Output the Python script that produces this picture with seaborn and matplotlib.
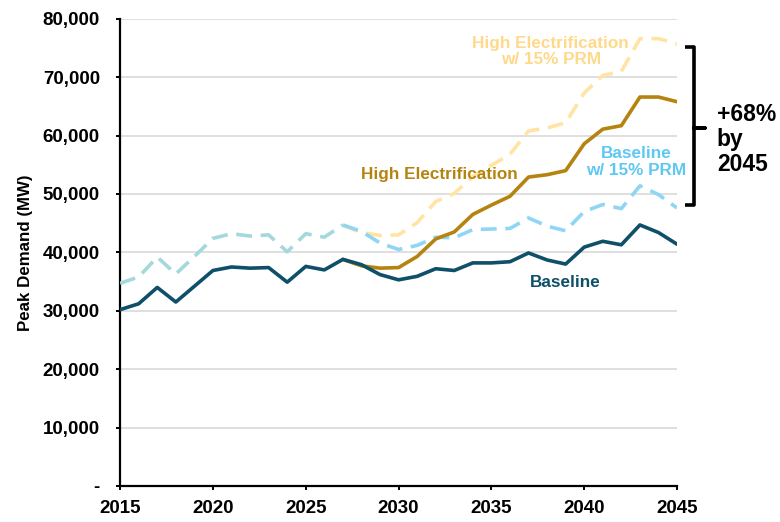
import matplotlib
matplotlib.use("Agg")
import matplotlib.pyplot as plt
import seaborn as sns
import pandas as pd
import numpy as np

# ---------------- data (thousand MW) ----------------
years = list(range(2015, 2046))
baseline = [30.2, 31.2, 34.0, 31.5, 34.2, 36.9, 37.5, 37.3, 37.4, 34.9, 37.6, 37.0, 38.8, 37.9, 36.2, 35.3,
            35.9, 37.2, 36.9, 38.2, 38.2, 38.4, 39.9, 38.7, 38.0, 40.9, 41.9, 41.3, 44.7, 43.4, 41.4]
baseline_prm = [34.7, 35.8, 39.2, 36.3, 39.3, 42.4, 43.2, 42.8, 43.0, 40.1, 43.2, 42.6, 44.7, 43.6, 41.6, 40.5,
                41.2, 42.6, 42.5, 43.9, 44.0, 44.1, 45.9, 44.5, 43.7, 47.0, 48.2, 47.5, 51.4, 49.9, 47.6]
he_years = list(range(2027, 2046))
high_elec = [38.8, 37.7, 37.3, 37.4, 39.3, 42.3, 43.5, 46.5, 48.1, 49.6, 52.9, 53.3, 54.0, 58.6, 61.1, 61.7,
             66.6, 66.6, 65.8]
high_elec_prm = [44.6, 43.4, 42.9, 43.0, 45.1, 48.7, 50.1, 53.0, 54.9, 56.8, 60.8, 61.3, 62.2, 67.3, 70.3,
                 71.0, 76.6, 76.6, 75.7]
forecast_start = 2027
y_ticks = [0, 10000, 20000, 30000, 40000, 50000, 60000, 70000, 80000]
x_ticks = [2015, 2020, 2025, 2030, 2035, 2040, 2045]

df = pd.DataFrame({"year": years, "baseline": np.array(baseline) * 1000,
                   "baseline_prm": np.array(baseline_prm) * 1000})
he = pd.DataFrame({"year": he_years, "he": np.array(high_elec) * 1000,
                   "he_prm": np.array(high_elec_prm) * 1000})
hist = df[df.year <= forecast_start]
fut = df[df.year >= forecast_start]

# ---------------- style ----------------
sns.set_theme(style="white")
plt.rcParams["font.family"] = ["Liberation Sans", "DejaVu Sans"]
plt.rcParams["font.weight"] = "bold"

C_BASE = "#0e4f69"
C_HIST_DASH = "#a3d9dc"
C_BASE_PRM = "#8fd6f5"
C_BASE_PRM_TXT = "#5ec8f2"
C_HE = "#b58410"
C_HE_PRM = "#ffe4a3"
C_HE_PRM_TXT = "#ffd98a"

fig = plt.figure(figsize=(7.8, 5.22), dpi=100)
ax = fig.add_axes([0.154, 0.069, 0.714, 0.895])

lw = 2.6
dash = (0, (4.4, 2.4))
sns.lineplot(data=he, x="year", y="he_prm", ax=ax, color=C_HE_PRM, linewidth=lw, linestyle=dash,
             estimator=None, zorder=3)
sns.lineplot(data=fut, x="year", y="baseline_prm", ax=ax, color=C_BASE_PRM, linewidth=lw, linestyle=dash,
             estimator=None, zorder=4)
sns.lineplot(data=hist, x="year", y="baseline_prm", ax=ax, color=C_HIST_DASH, linewidth=lw, linestyle=dash,
             estimator=None, zorder=4)
sns.lineplot(data=he, x="year", y="he", ax=ax, color=C_HE, linewidth=lw, estimator=None, zorder=5)
sns.lineplot(data=df, x="year", y="baseline", ax=ax, color=C_BASE, linewidth=lw, estimator=None, zorder=6)

ax.set_xlim(2015, 2045)
ax.set_ylim(0, 80000)
ax.set_yticks(y_ticks)
ax.set_yticklabels(["-" if v == 0 else f"{v:,}" for v in y_ticks])
ax.set_xticks(x_ticks)
ax.set_xticklabels([str(v) for v in x_ticks])
ax.tick_params(axis="both", direction="out", length=3, width=1.4, color="black",
               labelsize=13.5, labelcolor="black")
ax.tick_params(axis="y", left=True, pad=11.5)
ax.tick_params(axis="x", bottom=True, pad=7)
for lab in ax.get_xticklabels() + ax.get_yticklabels():
    lab.set_fontweight("bold")
ax.set_xlabel("")
ax.set_ylabel("Peak Demand (MW)", fontsize=12.2, fontweight="bold", color="black", labelpad=7)

ax.yaxis.grid(True, color="#d9d9d9", linewidth=1.2)
ax.set_axisbelow(True)
sns.despine(ax=ax)
for s in ["left", "bottom"]:
    ax.spines[s].set_color("black")
    ax.spines[s].set_linewidth(1.6)
    ax.spines[s].set_zorder(2)

# ---------------- annotations ----------------
ax.text(2038.2, 74400, "High Electrification\nw/ 15% PRM", color=C_HE_PRM_TXT, fontsize=12.3,
        fontweight="bold", ha="center", va="center", linespacing=1.15)
ax.text(2032.2, 53300, "High Electrification", color=C_HE, fontsize=12.3, fontweight="bold",
        ha="center", va="center")
ax.text(2042.8, 55500, "Baseline\nw/ 15% PRM", color=C_BASE_PRM_TXT, fontsize=12.3, fontweight="bold",
        ha="center", va="center", linespacing=1.15)
ax.text(2039.0, 34900, "Baseline", color=C_BASE, fontsize=12.3, fontweight="bold",
        ha="center", va="center")

# bracket
bx = [2045.43, 2045.92, 2045.92, 2046.51, 2045.92, 2045.92, 2045.43]
by = [75200, 75200, 61300, 61300, 61300, 48100, 48100]
ax.plot(bx, by, color="black", linewidth=2.6, clip_on=False, solid_joinstyle="round",
        solid_capstyle="butt", zorder=7)
ax.text(2047.15, 59300, "+68%\nby\n2045", color="black", fontsize=16.5, fontweight="bold",
        ha="left", va="center", linespacing=1.1)

fig.savefig("out.png", dpi=100)
